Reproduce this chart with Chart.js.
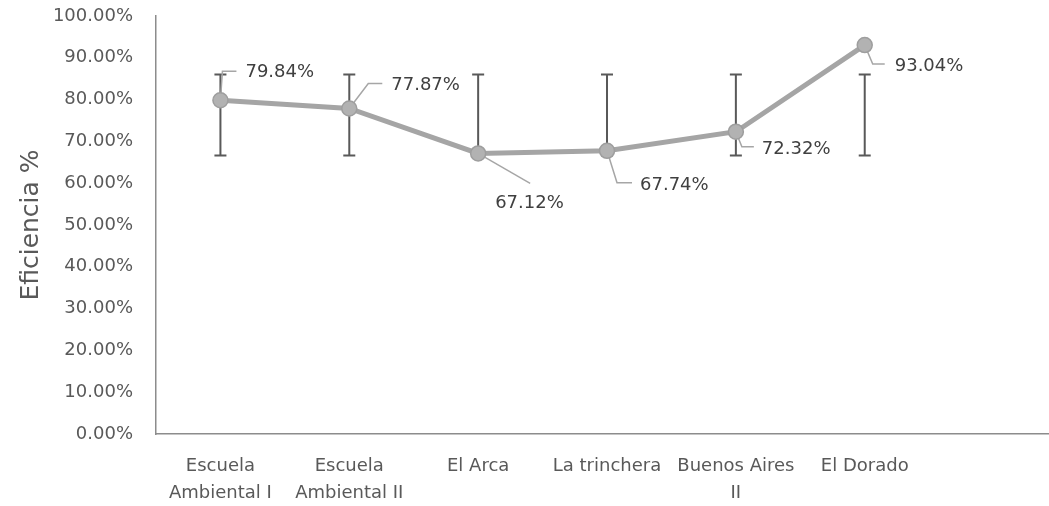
<!DOCTYPE html>
<html>
<head>
<meta charset="utf-8">
<script src="https://cdn.jsdelivr.net/npm/chart.js@4.4.1/dist/chart.umd.min.js"></script>
<style>
  html, body { margin: 0; padding: 0; background: #ffffff; }
  #wrap { width: 1049px; height: 506px; }
</style>
</head>
<body>
<div id="wrap"><canvas id="c" width="1049" height="506"></canvas></div>
<script>
// Plantas evaluadas
const categories = [
  ['Escuela', 'Ambiental I'],
  ['Escuela', 'Ambiental II'],
  'El Arca',
  'La trinchera',
  ['Buenos Aires', 'II'],
  'El Dorado'
];

// Eficiencia de remoción (%)
const efficiency = [79.84, 77.87, 67.12, 67.74, 72.32, 93.04];

// Rango de las barras de error (%)
const errLow  = [66.6, 66.6, 66.6, 66.6, 66.6, 66.6];
const errHigh = [86.0, 86.0, 86.0, 86.0, 86.0, 86.0];

// Marcas del eje Y (%)
const yTicks = [0, 10, 20, 30, 40, 50, 60, 70, 80, 90, 100];

// Posición de cada etiqueta respecto a su punto: codo y final de la guía, origen del texto
const labelLayout = [
  { guide: [[2, -29], [16, -29]],  text: [25, -28] },
  { guide: [[19, -25], [33, -25]], text: [42, -23] },
  { guide: [[52, 30]],             text: [17, 50] },
  { guide: [[10, 32], [25, 32]],   text: [33, 34] },
  { guide: [[6, 15], [18, 15]],    text: [26, 18] },
  { guide: [[8, 19], [20, 19]],    text: [30, 21] }
];

const FONT = "'DejaVu Sans', sans-serif";
Chart.defaults.font.family = FONT;
Chart.defaults.color = '#595959';

// Barras de error y guías de las etiquetas, detrás de la línea
const underlay = {
  id: 'underlay',
  beforeDatasetsDraw(chart) {
    const { ctx, scales: { x, y } } = chart;
    const meta = chart.getDatasetMeta(0);
    ctx.save();
    // barras de error
    ctx.strokeStyle = '#595959';
    ctx.lineWidth = 2;
    errLow.forEach((lo, i) => {
      const px = x.getPixelForValue(i);
      const yl = y.getPixelForValue(lo);
      const yh = y.getPixelForValue(errHigh[i]);
      ctx.beginPath();
      ctx.moveTo(px, yl); ctx.lineTo(px, yh);
      ctx.moveTo(px - 6, yl); ctx.lineTo(px + 6, yl);
      ctx.moveTo(px - 6, yh); ctx.lineTo(px + 6, yh);
      ctx.stroke();
    });
    // guías de las etiquetas
    ctx.strokeStyle = '#A6A6A6';
    ctx.lineWidth = 1.5;
    meta.data.forEach((pt, i) => {
      const L = labelLayout[i];
      ctx.beginPath();
      ctx.moveTo(pt.x, pt.y);
      L.guide.forEach(([dx, dy]) => ctx.lineTo(pt.x + dx, pt.y + dy));
      ctx.stroke();
    });
    ctx.restore();
  },
  afterDatasetsDraw(chart) {
    const { ctx } = chart;
    const meta = chart.getDatasetMeta(0);
    ctx.save();
    ctx.font = '18px ' + FONT;
    ctx.fillStyle = '#404040';
    ctx.textAlign = 'left';
    ctx.textBaseline = 'middle';
    meta.data.forEach((pt, i) => {
      const [dx, dy] = labelLayout[i].text;
      ctx.fillText(efficiency[i].toFixed(2) + '%', pt.x + dx, pt.y + dy);
    });
    ctx.restore();
  }
};

new Chart(document.getElementById('c'), {
  type: 'line',
  data: {
    datasets: [{
      data: efficiency.map((v, i) => ({ x: i, y: v })),
      borderColor: '#A5A5A5',
      borderWidth: 5,
      pointRadius: 7.5,
      pointBackgroundColor: '#B2B2B2',
      pointBorderColor: '#9E9E9E',
      pointBorderWidth: 1.5,
      tension: 0
    }]
  },
  options: {
    responsive: false,
    animation: false,
    layout: { autoPadding: false, padding: { top: 16, right: 0, bottom: 0, left: 0 } },
    plugins: { legend: { display: false }, tooltip: { enabled: false } },
    scales: {
      x: {
        type: 'linear',
        min: -0.5,
        max: 6.43,
        grid: { display: false, drawTicks: false },
        border: { display: true, color: '#8C8C8C', width: 1.5 },
        afterBuildTicks(s) { s.ticks = categories.map((_, i) => ({ value: i })); },
        afterFit(s) { s.height = 72; s.paddingLeft = 0; s.paddingRight = 0; },
        ticks: {
          autoSkip: false,
          maxRotation: 0,
          padding: 19,
          font: { size: 18, lineHeight: 1.5 },
          color: '#595959',
          callback: (v) => categories[v]
        }
      },
      y: {
        min: 0,
        max: 100,
        grid: { display: false, drawTicks: false },
        border: { display: true, color: '#8C8C8C', width: 1.5 },
        afterBuildTicks(s) { s.ticks = yTicks.map(v => ({ value: v })); },
        afterFit(s) { s.width = 156; s.paddingTop = 0; s.paddingBottom = 0; },
        ticks: {
          padding: 23,
          font: { size: 18 },
          color: '#595959',
          callback: (v) => v.toFixed(2) + '%'
        },
        title: {
          display: true,
          text: 'Eficiencia %',
          font: { size: 25 },
          color: '#595959',
          padding: { top: 16, bottom: 0 }
        }
      }
    }
  },
  plugins: [underlay]
});
</script>
</body>
</html>
